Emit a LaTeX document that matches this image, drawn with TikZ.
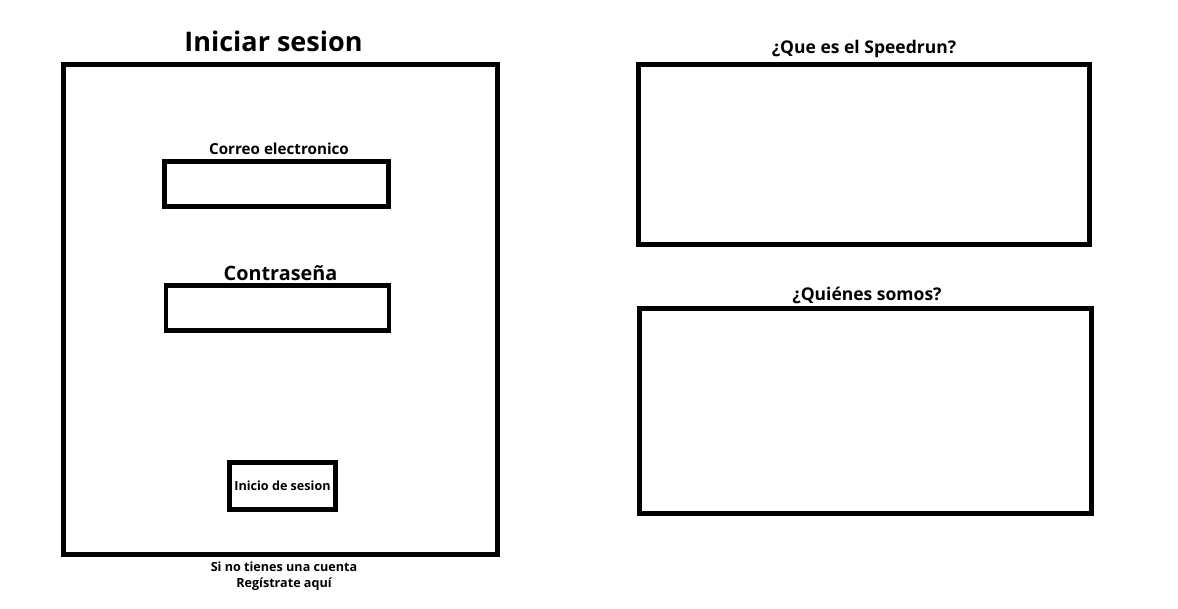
\documentclass[tikz,border=0pt]{standalone}
\usepackage{fontspec}
\setmainfont{Open Sans}
\begin{document}
\begin{tikzpicture}[x=1pt,y=-1pt,
  box/.style={draw=black,line width=5pt,rectangle,inner sep=0pt,outer sep=0pt},
  lbl/.style={anchor=base,inner sep=0pt,font=\bfseries}]
\useasboundingbox[fill=white] (0,0) rectangle (1178,608);
% left panel
\node[box,minimum width=434pt,minimum height=490pt] (main) at (280.5,309.5) {};
\node[lbl,font=\bfseries\fontsize{27}{30}\selectfont] (title) at (273.5,51) {Iniciar sesion};
\node[box,line width=4.7pt,minimum width=224pt,minimum height=45pt] (mail) at (276.5,184.2) {};
\node[lbl,font=\bfseries\fontsize{15.2}{17}\selectfont] (maillbl) at (279,154.3) {Correo electronico};
\node[box,line width=4.7pt,minimum width=223pt,minimum height=45pt] (pass) at (277.5,308.2) {};
\node[lbl,font=\bfseries\fontsize{19.8}{21}\selectfont] (passlbl) at (280.5,280.7) {Contraseña};
\node[box,minimum width=106pt,minimum height=47pt] (btn) at (282.2,485.8) {};
\node[lbl,font=\bfseries\fontsize{12.6}{15}\selectfont] (btnlbl) at (282.5,490.3) {Inicio de sesion};
\node[lbl,font=\bfseries\fontsize{12.6}{14}\selectfont] (reg1) at (284,571.7) {Si no tienes una cuenta};
\node[lbl,font=\bfseries\fontsize{12.6}{14}\selectfont] (reg2) at (284,587.7) {Regístrate aquí};
% right panels
\node[box,minimum width=451pt,minimum height=180pt] (speed) at (863.8,154) {};
\node[lbl,font=\bfseries\fontsize{17.5}{19}\selectfont] (speedlbl) at (864,53.3) {¿Que es el Speedrun?};
\node[box,minimum width=452pt,minimum height=205pt] (who) at (865,410.8) {};
\node[lbl,font=\bfseries\fontsize{17.5}{19}\selectfont] (wholbl) at (867,300.7) {¿Quiénes somos?};
\end{tikzpicture}
\end{document}
